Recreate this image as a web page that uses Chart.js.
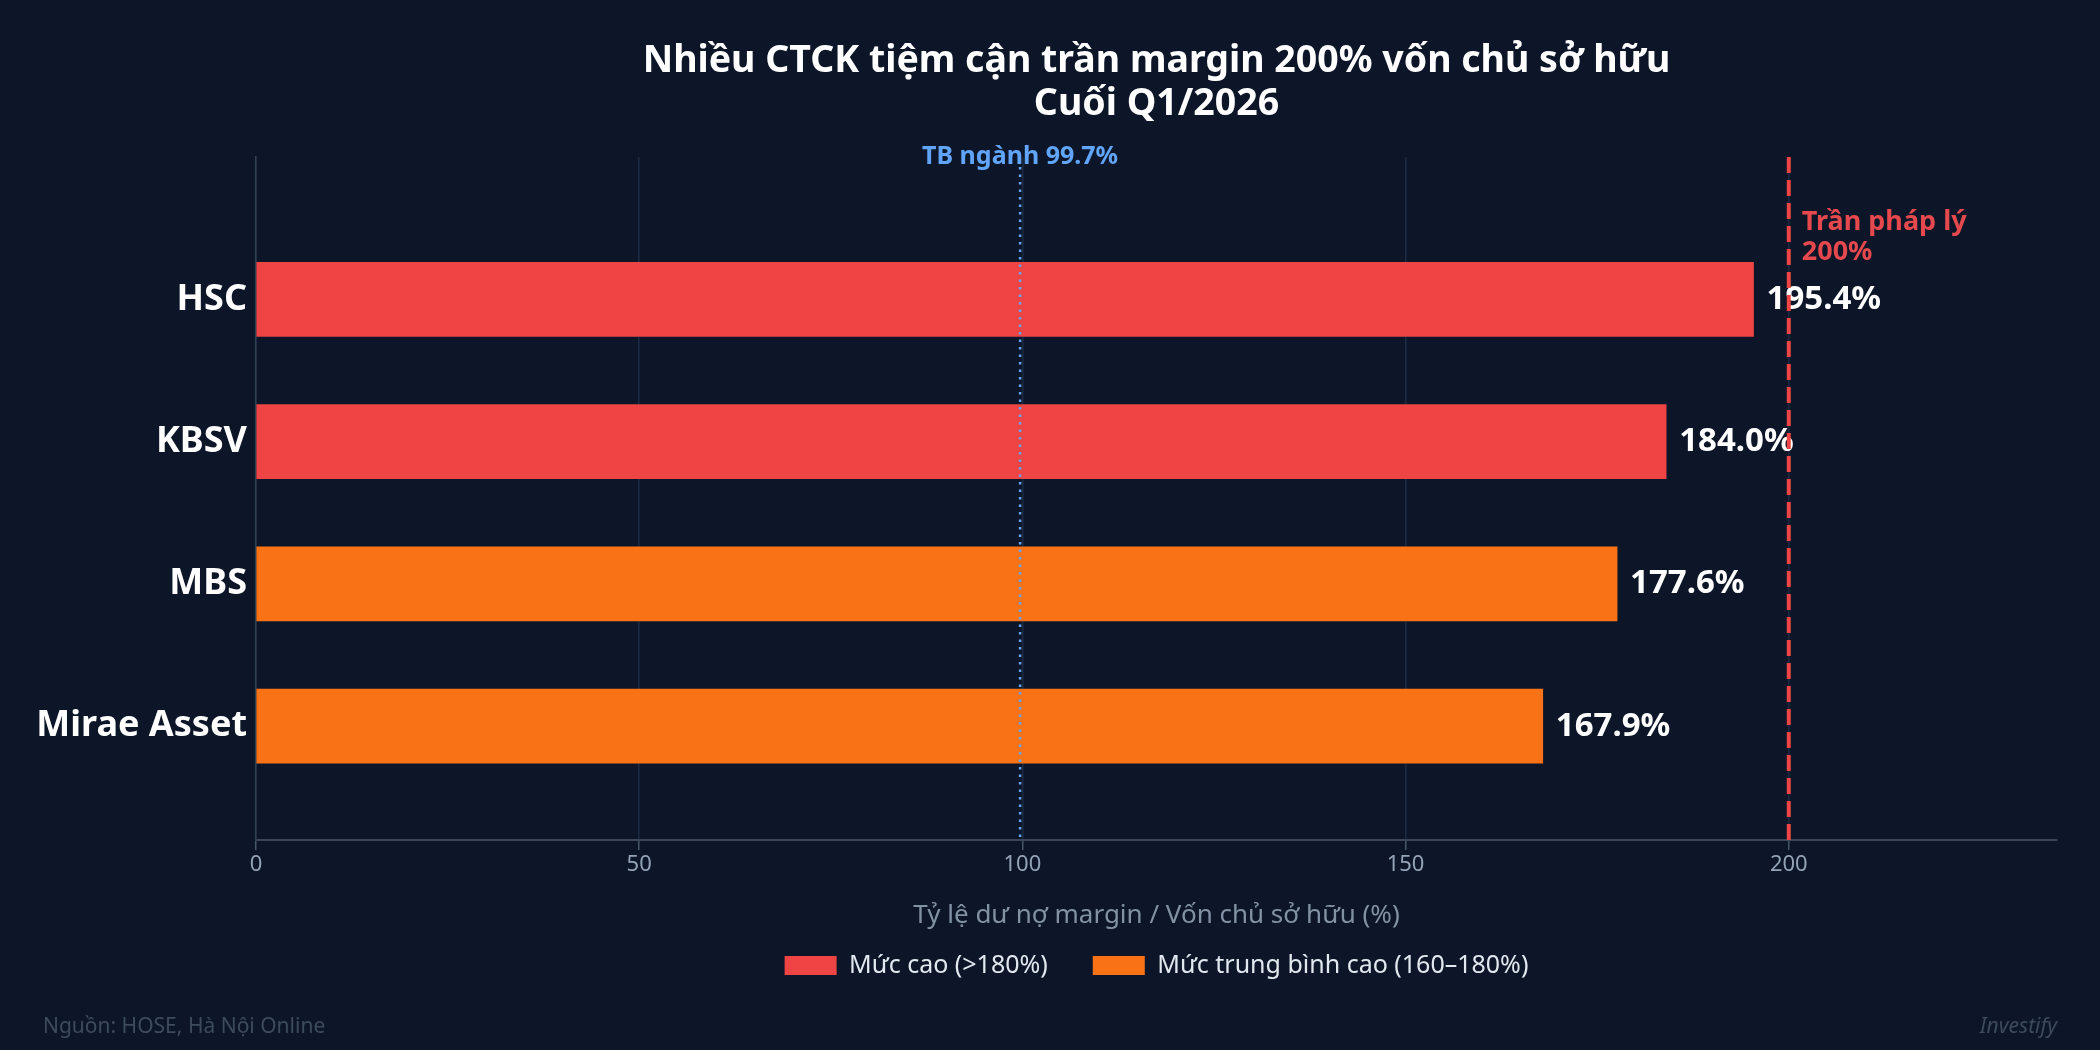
<!DOCTYPE html>
<html lang="vi">
<head>
<meta charset="utf-8">
<title>Margin CTCK Q1/2026</title>
<script src="https://cdn.jsdelivr.net/npm/chart.js@4.4.1/dist/chart.umd.min.js"></script>
<style>
    html, body { margin: 0; padding: 0; background: #0c1628; }
    #wrap { width: 2100px; height: 1050px; position: relative; }
</style>
</head>
<body>
<div id="wrap"><canvas id="marginChart"></canvas></div>
<script>

// DATA
const companies = ["HSC", "KBSV", "MBS", "Mirae Asset"];
const highValues = [195.4, 184.0, null, null];   // > 180%
const midValues = [null, null, 177.6, 167.9];    // 160 - 180%
const xTickValues = [0, 50, 100, 150, 200];
const industryAvg = 99.7;
const legalCap = 200;

const FONT = "'Noto Sans', 'Open Sans', sans-serif";


function toPoints(values) {
    const pts = [];
    values.forEach(function (v, i) {
        if (v !== null) pts.push({ x: v, y: i });
    });
    return pts;
}


// reference lines + value labels + footer
const overlayPlugin = {
    id: "overlay",

    afterDatasetsDraw: function (chart) {
        const ctx = chart.ctx;
        const area = chart.chartArea;
        const xs = chart.scales.x;

        // value labels
        ctx.save();
        ctx.fillStyle = "#ffffff";
        ctx.font = "bold 33px " + FONT;
        ctx.textAlign = "left";
        ctx.textBaseline = "middle";
        chart.data.datasets.forEach(function (ds, di) {
            chart.getDatasetMeta(di).data.forEach(function (bar, i) {
                ctx.fillText(ds.data[i].x.toFixed(1) + "%", bar.x + 13, bar.y);
            });
        });
        ctx.restore();

        // TB nganh
        const xAvg = xs.getPixelForValue(industryAvg);
        ctx.save();
        ctx.strokeStyle = "#60a5fa";
        ctx.lineWidth = 2.5;
        ctx.setLineDash([2.5, 5]);
        ctx.beginPath();
        ctx.moveTo(xAvg, area.top + 10);
        ctx.lineTo(xAvg, area.bottom);
        ctx.stroke();
        ctx.setLineDash([]);
        ctx.fillStyle = "#60a5fa";
        ctx.font = "bold 25px " + FONT;
        ctx.textAlign = "center";
        ctx.textBaseline = "middle";
        ctx.fillText("TB ngành " + industryAvg + "%", xAvg, area.top);
        ctx.restore();

        // tran phap ly
        const xCap = xs.getPixelForValue(legalCap);
        ctx.save();
        ctx.strokeStyle = "#ef4444";
        ctx.lineWidth = 4;
        ctx.setLineDash([16, 7]);
        ctx.beginPath();
        ctx.moveTo(xCap, area.top);
        ctx.lineTo(xCap, area.bottom);
        ctx.stroke();
        ctx.setLineDash([]);
        ctx.fillStyle = "#e5484d";
        ctx.font = "bold 27px " + FONT;
        ctx.textAlign = "left";
        ctx.textBaseline = "middle";
        ctx.fillText("Trần pháp lý", xCap + 13, area.top + 65);
        ctx.fillText(legalCap + "%", xCap + 13, area.top + 95);
        ctx.restore();
    },

    afterDraw: function (chart) {
        const ctx = chart.ctx;
        ctx.save();
        ctx.textBaseline = "middle";
        ctx.fillStyle = "#3e4a5d";
        ctx.font = "21px " + FONT;
        ctx.textAlign = "left";
        ctx.fillText("Nguồn: HOSE, Hà Nội Online", 43, 1027);
        ctx.font = "italic 21px " + FONT;
        ctx.textAlign = "right";
        ctx.fillText("Investify", 2057, 1027);
        ctx.restore();
    }
};


new Chart(
    document.getElementById("marginChart"),
    {
        type: "bar",

        data: {
            datasets: [{
                label: "Mức cao (>180%)",
                data: toPoints(highValues),
                backgroundColor: "#ef4444",
                grouped: false,
                barThickness: 74
            }, {
                label: "Mức trung bình cao (160–180%)",
                data: toPoints(midValues),
                backgroundColor: "#f97316",
                grouped: false,
                barThickness: 74
            }]
        },

        options: {
            indexAxis: "y",
            responsive: true,
            maintainAspectRatio: false,
            animation: false,

            layout: {
                padding: { top: 0, right: 43, bottom: 62, left: 0 }
            },

            plugins: {
                title: {
                    display: true,
                    fullSize: false,
                    text: ["Nhiều CTCK tiệm cận trần margin 200% vốn chủ sở hữu", "Cuối Q1/2026"],
                    color: "#ffffff",
                    font: { family: FONT, size: 37.5, weight: "bold", lineHeight: 1.15 },
                    padding: { top: 39.6, bottom: 31.2 }
                },
                legend: {
                    position: "bottom",
                    fullSize: false,
                    labels: {
                        color: "#e2e8f0",
                        font: { family: FONT, size: 25 },
                        boxWidth: 52,
                        boxHeight: 19,
                        padding: 45
                    }
                },
                tooltip: { enabled: false }
            },

            scales: {
                x: {
                    type: "linear",
                    min: 0,
                    max: 235,
                    afterBuildTicks: function (s) {
                        s.ticks = xTickValues.map(function (v) { return { value: v }; });
                    },
                    ticks: {
                        color: "#94a3b8",
                        font: { family: FONT, size: 22 },
                        padding: 2
                    },
                    grid: {
                        color: "#1c2b42",
                        lineWidth: 1.5,
                        tickColor: "#475569",
                        tickLength: 10
                    },
                    border: { color: "#3b4658", width: 2 },
                    title: {
                        display: true,
                        text: "Tỷ lệ dư nợ margin / Vốn chủ sở hữu (%)",
                        color: "#8391a5",
                        font: { family: FONT, size: 26 },
                        padding: { top: 20, bottom: -23.6 }
                    }
                },
                y: {
                    type: "linear",
                    min: -1,
                    max: 3.8,
                    reverse: true,
                    offset: false,
                    afterFit: function (s) { s.width = 256; },
                    ticks: {
                        stepSize: 1,
                        includeBounds: false,
                        color: "#ffffff",
                        font: { family: FONT, size: 36, weight: "bold" },
                        padding: 9,
                        callback: function (v) {
                            return Number.isInteger(v) && companies[v] ? companies[v] : "";
                        }
                    },
                    grid: { display: false, drawTicks: false },
                    border: { color: "#334155", width: 1.5 }
                }
            }
        },

        plugins: [overlayPlugin]
    }
);

</script>
</body>
</html>
